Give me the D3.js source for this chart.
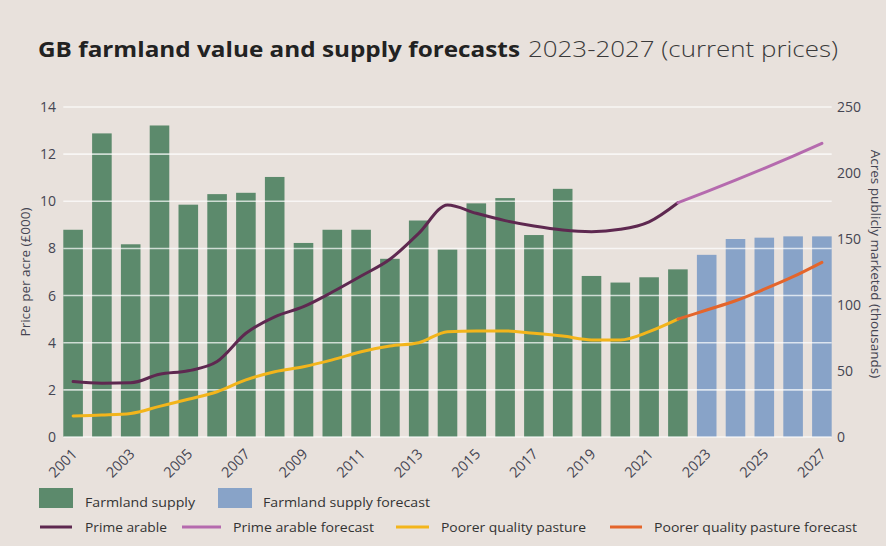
<!DOCTYPE html>
<html>
<head>
<meta charset="utf-8">
<script src="https://cdn.jsdelivr.net/npm/d3@7"></script>
<style>
  body { margin: 0; background: #e8e1dc; }
  svg { display: block; font-family: "Open Sans", sans-serif; }
</style>
</head>
<body>
<svg id="chart"></svg>
<script>
// categories
const years = ["2001","2002","2003","2004","2005","2006","2007","2008","2009","2010","2011","2012","2013","2014",
               "2015","2016","2017","2018","2019","2020","2021","2022","2023","2024","2025","2026","2027"];
const actualYears = years.slice(0, 22);
const forecastYears = years.slice(22);
const lineForecastYears = years.slice(21); // forecast lines start from the last actual year

// acres publicly marketed (thousands)
const supply = [157, 230, 146, 236, 176, 184, 185, 197, 147, 157, 157, 135, 164, 142, 177, 181, 153, 188, 122, 117, 121, 127];
const supplyForecast = [138, 150, 151, 152, 152];

// price per acre (£000)
const primeArable = [2.35, 2.28, 2.3, 2.66, 2.81, 3.2, 4.4, 5.1, 5.53, 6.15, 6.83, 7.54, 8.64, 9.84, 9.49, 9.18, 8.95, 8.78, 8.71, 8.81, 9.13, 9.94];
const primeArableForecast = [9.94, 10.41, 10.9, 11.4, 11.92, 12.46];
const pasture = [0.89, 0.93, 1.0, 1.3, 1.6, 1.92, 2.42, 2.77, 2.98, 3.27, 3.62, 3.86, 4.0, 4.47, 4.5, 4.5, 4.4, 4.28, 4.12, 4.12, 4.47, 5.0];
const pastureForecast = [5.0, 5.39, 5.78, 6.27, 6.8, 7.41];

const leftTicks = [0, 2, 4, 6, 8, 10, 12, 14];
const rightTicks = [0, 50, 100, 150, 200, 250];
const xLabels = years.filter((d, i) => i % 2 === 0);

const width = 886, height = 546;
const c = {
  bar: "#5c8a6c", barF: "#88a3c8",
  prime: "#5e2850", primeF: "#b56aae",
  pasture: "#f3b51b", pastureF: "#e4652b",
  text: "#454552"
};

const svg = d3.select("#chart").attr("width", width).attr("height", height);
svg.append("rect").attr("width", width).attr("height", height).attr("fill", "#e8e1dc");

const x = d3.scaleBand().domain(years).range([58.7, 836.3]).paddingInner(0.32).paddingOuter(0.16);
const yL = d3.scaleLinear().domain([0, 14]).range([437, 107]);
const yR = d3.scaleLinear().domain([0, 250]).range([437, 107]);

// title
svg.append("text").attr("x", 38).attr("y", 57).attr("font-size", 22).attr("font-weight", 700).attr("fill", "#222")
  .attr("textLength", 482).attr("lengthAdjust", "spacingAndGlyphs")
  .text("GB farmland value and supply forecasts");
svg.append("text").attr("x", 528).attr("y", 57).attr("font-size", 22).attr("font-weight", 300).attr("fill", "#3a3a3a")
  .attr("textLength", 310).attr("lengthAdjust", "spacingAndGlyphs")
  .text("2023-2027 (current prices)");

// bars
svg.append("g").selectAll("rect").data(supply).join("rect")
  .attr("x", (d, i) => x(actualYears[i]))
  .attr("y", d => yR(d))
  .attr("width", x.bandwidth())
  .attr("height", d => yR(0) - yR(d))
  .attr("fill", c.bar);
svg.append("g").selectAll("rect").data(supplyForecast).join("rect")
  .attr("x", (d, i) => x(forecastYears[i]))
  .attr("y", d => yR(d))
  .attr("width", x.bandwidth())
  .attr("height", d => yR(0) - yR(d))
  .attr("fill", c.barF);

// gridlines over the bars
const gx0 = x(years[0]), gx1 = x(years[years.length - 1]) + x.bandwidth();
svg.append("g").selectAll("line").data(leftTicks).join("line")
  .attr("x1", gx0).attr("x2", gx1)
  .attr("y1", d => yL(d)).attr("y2", d => yL(d))
  .attr("stroke", "#fff").attr("stroke-opacity", 0.7).attr("stroke-width", 1.6);

// left axis
const axisL = svg.append("g").attr("transform", "translate(56,0)")
  .call(d3.axisLeft(yL).tickValues(leftTicks).tickSize(0).tickPadding(0));
axisL.select(".domain").remove();
axisL.selectAll("text").attr("font-size", 14).attr("fill", c.text).attr("font-family", "Open Sans, sans-serif");

// right axis
const axisR = svg.append("g").attr("transform", "translate(837,0)")
  .call(d3.axisRight(yR).tickValues(rightTicks).tickSize(0).tickPadding(0));
axisR.select(".domain").remove();
axisR.selectAll("text").attr("font-size", 14).attr("fill", c.text).attr("font-family", "Open Sans, sans-serif");

// x labels
svg.append("g").selectAll("text").data(xLabels).join("text")
  .attr("transform", d => `translate(${x(d) + x.bandwidth() / 2 + 5},455) rotate(-45)`)
  .attr("text-anchor", "end")
  .attr("font-size", 14.5).attr("fill", c.text)
  .text(d => d);

// axis titles
svg.append("text").attr("transform", "translate(30,272) rotate(-90)")
  .attr("text-anchor", "middle").attr("font-size", 13.5).attr("fill", c.text)
  .text("Price per acre (£000)");
svg.append("text").attr("transform", "translate(871,264) rotate(90)")
  .attr("text-anchor", "middle").attr("font-size", 13.5).attr("fill", c.text)
  .text("Acres publicly marketed (thousands)");

// lines
const line = d3.line()
  .x(d => x(d[0]) + x.bandwidth() / 2)
  .y(d => yL(d[1]))
  .curve(d3.curveMonotoneX);
const series = [
  [actualYears, primeArable, c.prime],
  [lineForecastYears, primeArableForecast, c.primeF],
  [actualYears, pasture, c.pasture],
  [lineForecastYears, pastureForecast, c.pastureF]
];
series.forEach(([ys, vals, col]) => {
  svg.append("path")
    .datum(vals.map((v, i) => [ys[i], v]))
    .attr("d", line)
    .attr("fill", "none").attr("stroke", col)
    .attr("stroke-width", 3).attr("stroke-linecap", "round");
});

// legend
const lg = svg.append("g").attr("font-size", 13).attr("fill", "#333");
[[39, "Farmland supply", c.bar, 85, 110], [218, "Farmland supply forecast", c.barF, 263, 167]].forEach(([sx, label, col, tx, tl]) => {
  lg.append("rect").attr("x", sx).attr("y", 488).attr("width", 34).attr("height", 20).attr("fill", col);
  lg.append("text").attr("x", tx).attr("y", 507).attr("textLength", tl).attr("lengthAdjust", "spacingAndGlyphs").text(label);
});
[[40, 72, "Prime arable", c.prime, 85, 82],
 [182, 221, "Prime arable forecast", c.primeF, 233, 141],
 [396, 429, "Poorer quality pasture", c.pasture, 441, 145],
 [610, 642, "Poorer quality pasture forecast", c.pastureF, 654, 203]].forEach(([lx0, lx1, label, col, tx, tl]) => {
  lg.append("line").attr("x1", lx0).attr("x2", lx1).attr("y1", 527).attr("y2", 527)
    .attr("stroke", col).attr("stroke-width", 3);
  lg.append("text").attr("x", tx).attr("y", 532).attr("textLength", tl).attr("lengthAdjust", "spacingAndGlyphs").text(label);
});
</script>
</body>
</html>
